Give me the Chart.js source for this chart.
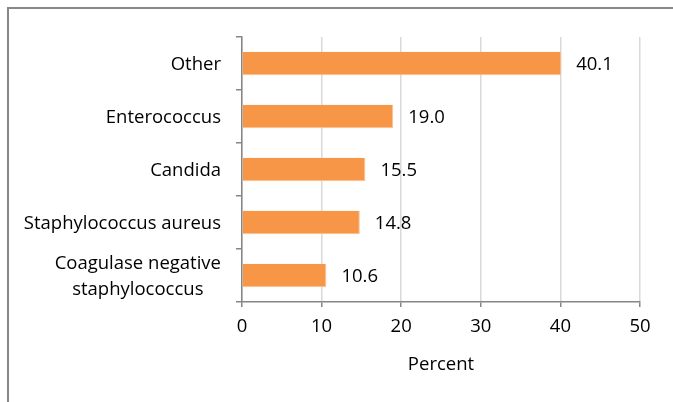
<!DOCTYPE html>
<html>
<head>
<meta charset="utf-8">
<script src="https://cdn.jsdelivr.net/npm/chart.js@4/dist/chart.umd.min.js"></script>
<style>
  html, body { margin: 0; padding: 0; background: #fff; overflow: hidden; }
  #wrap { position: relative; width: 673px; height: 402px; }
  #frame { position: absolute; left: 7px; top: 7px; width: 700px; height: 420px; border: 2px solid #878787; box-sizing: border-box; }
  canvas { position: absolute; left: 0; top: 0; }
</style>
</head>
<body>
<div id="wrap">
  <div id="frame"></div>
  <canvas id="grafik" width="673" height="402"></canvas>
</div>
<script>
// veriler
const kategoriler = ['Other', 'Enterococcus', 'Candida', 'Staphylococcus aureus', ['Coagulase negative', 'staphylococcus']];
const degerler = [40.1, 19.0, 15.5, 14.8, 10.6];
const eksenMin = 0;
const eksenMax = 50;
const eksenAdim = 10;
const eksenBaslik = 'Percent';

const yaziTipi = '"Open Sans", "Noto Sans", sans-serif';
const yaziBoyu = 18.5;

// bar sonundaki deger etiketleri
const degerEtiketi = {
    id: 'degerEtiketi',
    afterDatasetsDraw(chart) {
        const ctx = chart.ctx;
        const meta = chart.getDatasetMeta(0);
        ctx.save();
        ctx.font = yaziBoyu + 'px ' + yaziTipi;
        ctx.fillStyle = '#000';
        ctx.textAlign = 'left';
        ctx.textBaseline = 'middle';
        meta.data.forEach((bar, i) => {
            ctx.fillText(degerler[i].toFixed(1), bar.x + 15, bar.y + 1);
        });
        ctx.restore();
    }
};

// y ekseni etiketleri (iki satirlilar ortali)
const kategoriEtiketi = {
    id: 'kategoriEtiketi',
    afterDraw(chart) {
        const ctx = chart.ctx;
        const yScale = chart.scales.y;
        const sag = yScale.right - 21;
        const satirAraligi = 25.5;
        ctx.save();
        ctx.font = yaziBoyu + 'px ' + yaziTipi;
        ctx.fillStyle = '#000';
        ctx.textAlign = 'center';
        ctx.textBaseline = 'middle';
        kategoriler.forEach((k, i) => {
            const satirlar = Array.isArray(k) ? k : [k];
            const genislik = Math.max(...satirlar.map(s => ctx.measureText(s).width));
            const orta = sag - genislik / 2;
            const yMerkez = yScale.getPixelForValue(i) + 1;
            satirlar.forEach((s, j) => {
                const y = yMerkez + (j - (satirlar.length - 1) / 2) * satirAraligi;
                ctx.fillText(s, orta, y);
            });
        });
        ctx.restore();
    }
};

new Chart(document.getElementById('grafik').getContext('2d'), {
    type: 'bar',
    data: {
        labels: kategoriler,
        datasets: [{
            data: degerler,
            backgroundColor: '#F79646',
            borderColor: '#FAC090',
            borderWidth: { bottom: 1, right: 1 },
            borderSkipped: 'start',
            categoryPercentage: 1,
            barPercentage: 0.44
        }]
    },
    options: {
        indexAxis: 'y',
        responsive: false,
        animation: false,
        layout: { padding: { left: 0, top: 37, right: 33, bottom: 26 } },
        plugins: {
            legend: { display: false },
            tooltip: { enabled: false }
        },
        scales: {
            x: {
                min: eksenMin,
                max: eksenMax,
                ticks: {
                    stepSize: eksenAdim,
                    color: '#000',
                    padding: 9,
                    font: { family: yaziTipi, size: yaziBoyu }
                },
                grid: {
                    color: '#D9D9D9',
                    tickColor: '#868686',
                    tickLength: 5,
                    lineWidth: 1.5
                },
                border: { color: '#868686', width: 1.5 },
                title: {
                    display: true,
                    text: eksenBaslik,
                    color: '#000',
                    font: { family: yaziTipi, size: yaziBoyu },
                    padding: { top: 8, bottom: 0 }
                },
                afterFit(scale) { scale.height = 74; }
            },
            y: {
                ticks: { display: false },
                grid: {
                    drawOnChartArea: false,
                    offset: true,
                    tickColor: '#868686',
                    tickLength: 6,
                    lineWidth: 1.5
                },
                border: { color: '#868686', width: 1.5 },
                afterFit(scale) { scale.width = 242; }
            }
        }
    },
    plugins: [degerEtiketi, kategoriEtiketi]
});
</script>
</body>
</html>
